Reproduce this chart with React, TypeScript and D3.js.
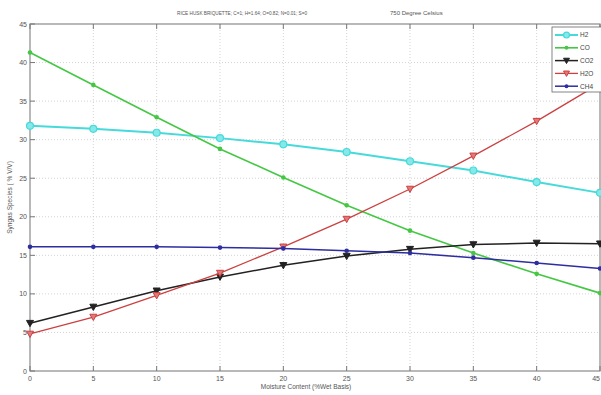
import React, { useEffect, useRef } from 'react';
import * as d3 from 'd3';

const moisture = [0, 5, 10, 15, 20, 25, 30, 35, 40, 45];
const h2 = [31.8, 31.4, 30.9, 30.2, 29.4, 28.4, 27.2, 26.0, 24.5, 23.1];
const co = [41.3, 37.1, 32.9, 28.8, 25.1, 21.5, 18.2, 15.3, 12.6, 10.1];
const co2 = [6.2, 8.3, 10.4, 12.2, 13.7, 14.9, 15.8, 16.4, 16.6, 16.5];
const h2o = [4.8, 7.0, 9.8, 12.7, 16.1, 19.7, 23.6, 27.9, 32.4, 37.3];
const ch4 = [16.1, 16.1, 16.1, 16.0, 15.9, 15.6, 15.3, 14.7, 14.0, 13.3];
const seriesNames = ['H2', 'CO', 'CO2', 'H2O', 'CH4'];
const xTicks = [0, 5, 10, 15, 20, 25, 30, 35, 40, 45];
const yTicks = [0, 5, 10, 15, 20, 25, 30, 35, 40, 45];

interface Series {
  name: string;
  values: number[];
  color: string;
  marker: 'circle' | 'dot' | 'tri';
  fill: string;
  width: number;
}

export default function App() {
  const svgRef = useRef<SVGSVGElement>(null);

  useEffect(() => {
    if (!svgRef.current) return;
    const width = 601;
    const height = 395;
    const svg = d3.select(svgRef.current);
    svg.selectAll('*').remove();
    svg.attr('width', width).attr('height', height).attr('viewBox', `0 0 ${width} ${height}`);

    const left = 30, right = 600, top = 24, bottom = 371;
    const x = d3.scaleLinear().domain([0, 45]).range([left, right]);
    const y = d3.scaleLinear().domain([0, 45]).range([bottom, top]);

    svg.append('rect').attr('width', width).attr('height', height).attr('fill', '#fff');

    // grid
    const grid = svg.append('g').attr('stroke', '#c8c8c8').attr('stroke-dasharray', '1,2').attr('stroke-width', 0.8);
    xTicks.slice(1, -1).forEach((t) => {
      grid.append('line').attr('x1', x(t)).attr('x2', x(t)).attr('y1', top).attr('y2', bottom);
    });
    yTicks.slice(1, -1).forEach((t) => {
      grid.append('line').attr('x1', left).attr('x2', right).attr('y1', y(t)).attr('y2', y(t));
    });

    // frame
    svg.append('rect')
      .attr('x', left).attr('y', top)
      .attr('width', right - left).attr('height', bottom - top)
      .attr('fill', 'none').attr('stroke', '#8a8a8a').attr('stroke-width', 1.2);

    const tickG = svg.append('g').attr('stroke', '#777').attr('stroke-width', 1);
    xTicks.forEach((t) => {
      tickG.append('line').attr('x1', x(t)).attr('x2', x(t)).attr('y1', bottom).attr('y2', bottom - 5);
      tickG.append('line').attr('x1', x(t)).attr('x2', x(t)).attr('y1', top).attr('y2', top + 5);
    });
    yTicks.forEach((t) => {
      tickG.append('line').attr('x1', left).attr('x2', left + 5).attr('y1', y(t)).attr('y2', y(t));
    });

    const font = 'Liberation Sans, Arial, sans-serif';
    svg.append('g').selectAll('text').data(xTicks).enter().append('text')
      .attr('x', (d) => (d === 45 ? x(d) : x(d)))
      .attr('y', bottom + 10)
      .attr('text-anchor', (d) => (d === 45 ? 'end' : 'middle'))
      .attr('font-size', 7).attr('font-family', font).attr('fill', '#555')
      .text((d) => d);
    svg.append('g').selectAll('text').data(yTicks).enter().append('text')
      .attr('x', left - 3).attr('y', (d) => y(d) + 2.5)
      .attr('text-anchor', 'end').attr('font-size', 7).attr('font-family', font).attr('fill', '#555')
      .text((d) => d);

    svg.append('text').attr('x', 306).attr('y', 389).attr('text-anchor', 'middle')
      .attr('font-size', 6.5).attr('font-family', font).attr('fill', '#555')
      .text('Moisture Content (%Wet Basis)');
    svg.append('text').attr('transform', `translate(12,${(top + bottom) / 2}) rotate(-90)`)
      .attr('text-anchor', 'middle').attr('font-size', 6.5).attr('font-family', font).attr('fill', '#555')
      .text('Syngas Species ( % V/V)');
    svg.append('text').attr('x', 177).attr('y', 15).attr('font-size', 6).attr('font-family', font).attr('fill', '#555')
      .attr('textLength', 130).attr('lengthAdjust', 'spacingAndGlyphs')
      .text('RICE HUSK BRIQUETTE; C=1; H=1.64; O=0.82; N=0.01; S=0');
    svg.append('text').attr('x', 390).attr('y', 15).attr('font-size', 6).attr('font-family', font).attr('fill', '#555')
      .text('750 Degree Celsius');

    const series: Series[] = [
      { name: seriesNames[0], values: h2, color: '#46dada', marker: 'circle', fill: '#86e8e8', width: 2 },
      { name: seriesNames[1], values: co, color: '#44c844', marker: 'dot', fill: '#44c844', width: 1.6 },
      { name: seriesNames[2], values: co2, color: '#222', marker: 'tri', fill: '#222', width: 1.5 },
      { name: seriesNames[3], values: h2o, color: '#cc4040', marker: 'tri', fill: '#e07a7a', width: 1.3 },
      { name: seriesNames[4], values: ch4, color: '#2e2ea0', marker: 'dot', fill: '#2e2ea0', width: 1.5 },
    ];

    const line = d3.line<number>().x((_, i) => x(moisture[i])).y((d) => y(d));
    const tri = (cx: number, cy: number, r: number) =>
      `M${cx - r},${cy - r * 0.8}L${cx + r},${cy - r * 0.8}L${cx},${cy + r}Z`;

    const drawMarker = (g: d3.Selection<SVGGElement, unknown, null, undefined>, s: Series, cx: number, cy: number, k = 1) => {
      if (s.marker === 'circle') {
        g.append('circle').attr('cx', cx).attr('cy', cy).attr('r', 3.5 * k).attr('fill', s.fill).attr('stroke', s.color).attr('stroke-width', 1.2);
      } else if (s.marker === 'dot') {
        g.append('circle').attr('cx', cx).attr('cy', cy).attr('r', 2.3 * k).attr('fill', s.fill);
      } else {
        g.append('path').attr('d', tri(cx, cy, 3.5 * k)).attr('fill', s.fill).attr('stroke', s.color).attr('stroke-width', 1);
      }
    };

    series.forEach((s) => {
      const g = svg.append('g');
      g.append('path').datum(s.values).attr('d', line).attr('fill', 'none')
        .attr('stroke', s.color).attr('stroke-width', s.width);
      s.values.forEach((v, i) => drawMarker(g, s, x(moisture[i]), y(v)));
    });

    // legend
    const lg = svg.append('g');
    lg.append('rect').attr('x', 552).attr('y', 27).attr('width', 50).attr('height', 65)
      .attr('fill', '#fff').attr('stroke', '#666').attr('stroke-width', 0.8);
    series.forEach((s, i) => {
      const ly = 35 + i * 12.8;
      lg.append('line').attr('x1', 555).attr('x2', 578).attr('y1', ly).attr('y2', ly)
        .attr('stroke', s.color).attr('stroke-width', s.width);
      drawMarker(lg, s, 566.5, ly, 0.85);
      lg.append('text').attr('x', 580).attr('y', ly + 2.3).attr('font-size', 6.5).attr('font-family', font)
        .attr('fill', '#444').text(s.name);
    });
  }, []);

  return <svg ref={svgRef} style={{ position: 'absolute', left: 0, top: 0 }} />;
}
